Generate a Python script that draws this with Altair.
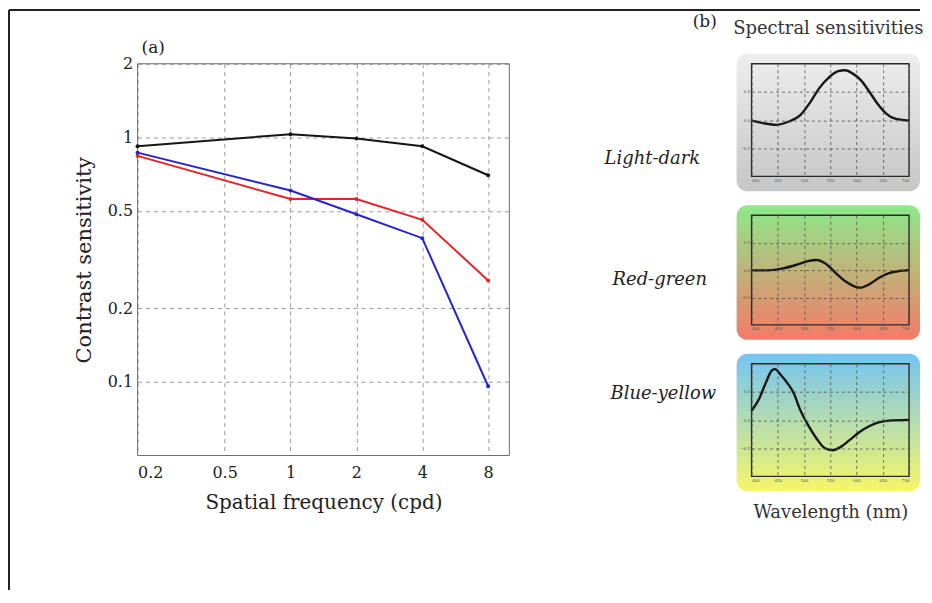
import altair as alt
import pandas as pd

# ---------------- data: panel (a) ----------------
freq = [0.2, 1, 2, 4, 8]
light_dark_cs = [0.92, 1.03, 0.99, 0.92, 0.70]
red_green_cs = [0.84, 0.56, 0.56, 0.46, 0.26]
blue_yellow_cs = [0.866, 0.606, 0.485, 0.387, 0.096]
channels = ["Light-dark", "Red-green", "Blue-yellow"]
channel_colors = ["#151515", "#e32626", "#2626c8"]
x_ticks = [0.2, 0.5, 1, 2, 4, 8]
y_ticks = [0.1, 0.2, 0.5, 1, 2]

# ---------------- data: panel (b) ----------------
ld_wl = [400, 422, 447, 471, 493, 512, 528, 547, 565, 578, 593, 609, 625, 640, 656, 672, 700]
ld_val = [-0.01, -0.055, -0.085, -0.025, 0.09, 0.32, 0.555, 0.755, 0.87, 0.885, 0.825, 0.70,
          0.495, 0.29, 0.12, 0.03, -0.01]
rg_wl = [400, 430, 462, 488, 507, 524, 540, 559, 578, 598, 607, 624, 643, 662, 682, 700]
rg_val = [-0.005, -0.005, 0.035, 0.105, 0.165, 0.185, 0.125, -0.04, -0.2, -0.305, -0.32, -0.26,
          -0.14, -0.055, -0.015, 0.0]
by_wl = [400, 414, 427, 439, 445, 455, 470, 480, 492, 508, 524, 539, 554, 570, 586, 605, 624,
         642, 661, 700]
by_val = [0.165, 0.37, 0.66, 0.885, 0.905, 0.81, 0.635, 0.485, 0.195, -0.095, -0.33, -0.495,
          -0.535, -0.475, -0.36, -0.215, -0.11, -0.04, -0.01, 0.005]
wl_ticks = [400, 450, 500, 550, 600, 650, 700]
sens_ticks = [-0.5, 0, 0.5]

FONT = "DejaVu Serif"
one = pd.DataFrame({"k": [0]})

# ---------------- panel (a) ----------------
W, H = 373, 393
df = pd.DataFrame({
    "freq": freq * 3,
    "cs": light_dark_cs + red_green_cs + blue_yellow_cs,
    "channel": [c for c in channels for _ in freq],
})
xs_a = alt.Scale(type="log", domain=[0.2, 10], nice=False)
ys_a = alt.Scale(type="log", domain=[0.05, 2], nice=False)
xa = alt.X("freq:Q", scale=xs_a,
           axis=alt.Axis(values=x_ticks, tickCount=len(x_ticks), format="~g",
                         title="Spatial frequency (cpd)",
                         grid=True, gridDash=[4, 4], gridColor="#9a9a9a", gridWidth=1,
                         ticks=False, domain=False, labelPadding=9, titlePadding=12,
                         labelFontSize=16, titleFontSize=20, labelColor="#222",
                         titleColor="#222", titleFontWeight="normal"))
ya = alt.Y("cs:Q", scale=ys_a,
           axis=alt.Axis(values=y_ticks, tickCount=len(y_ticks), format="~g",
                         title="Contrast sensitivity",
                         grid=True, gridDash=[4, 4], gridColor="#9a9a9a", gridWidth=1,
                         ticks=False, domain=False, labelPadding=5, titlePadding=13,
                         labelFontSize=16, titleFontSize=21, labelColor="#222",
                         titleColor="#222", titleFontWeight="normal"))
col = alt.Color("channel:N", scale=alt.Scale(domain=channels, range=channel_colors), legend=None)

lines = alt.Chart(df).mark_line(strokeWidth=2).encode(x=xa, y=ya, color=col)
pts = alt.Chart(df).mark_point(filled=True, size=16, opacity=1).encode(x="freq:Q", y="cs:Q", color=col)
frame_a = alt.Chart(one).mark_rect(fillOpacity=0, stroke="#6e6e6e", strokeWidth=1).encode(
    x=alt.X(datum=0.2, scale=xs_a), x2=alt.X2(datum=10),
    y=alt.Y(datum=0.05, scale=ys_a), y2=alt.Y2(datum=2))
label_a = alt.Chart(one).mark_text(text="(a)", font=FONT, fontSize=17, align="left",
                                   baseline="alphabetic", color="#222").encode(
    x=alt.value(4), y=alt.value(-11))
border_v = alt.Chart(one).mark_rule(color="#222", strokeWidth=2).encode(
    x=alt.value(-129), y=alt.value(-54), y2=alt.value(528))
border_h = alt.Chart(one).mark_rule(color="#222", strokeWidth=2).encode(
    x=alt.value(-129), x2=alt.value(785), y=alt.value(-54))

left = alt.layer(frame_a, lines, pts, label_a, border_v, border_h).properties(width=W, height=H)

# ---------------- panel (b) ----------------
PW = 158
TOP = 63   # page y of the panel tops (shared with panel a)
PX = 749   # page x of the panel plot areas


def panel(wl, val, label, c_top, c_bot, label_x, label_y, height, first=False, last=False):
    d = pd.DataFrame({"wl": wl, "s": val})
    xs = alt.Scale(domain=[400, 700], nice=False, zero=False)
    ys = alt.Scale(domain=[-1, 1], nice=False)
    xkw = dict(values=wl_ticks, tickCount=len(wl_ticks), grid=True, gridDash=[3, 3],
               gridColor="#505050", gridWidth=0.8, ticks=False, domain=False, labelFontSize=4,
               labelColor="#555", labelPadding=2, zindex=1)
    if last:
        xkw.update(title="Wavelength (nm)", titleFontSize=18, titleFontWeight="normal",
                   titleColor="#333", titleY=27, titleBaseline="top")
    else:
        xkw.update(title="")
    xe = alt.X("wl:Q", scale=xs, axis=alt.Axis(**xkw))
    ye = alt.Y("s:Q", scale=ys,
               axis=alt.Axis(values=sens_ticks, tickCount=len(sens_ticks), grid=True,
                             gridDash=[3, 3], gridColor="#505050",
                             gridWidth=0.8, ticks=False, domain=False, labelFontSize=4,
                             labelColor="#555", labelPadding=2, zindex=1,
                             title=label, titleAngle=0, titleAlign="left",
                             titleBaseline="middle", titleX=label_x, titleY=label_y,
                             titleFontSize=18, titleFontStyle="italic",
                             titleFontWeight="normal", titleColor="#222"))
    grad = alt.LinearGradient(gradient="linear",
                              stops=[alt.GradientStop(color=c_top, offset=0),
                                     alt.GradientStop(color=c_bot, offset=1)],
                              x1=0, x2=0, y1=0, y2=1)
    bg = alt.Chart(one).mark_rect(cornerRadius=11, fill=grad).encode(
        x=alt.value(-15), x2=alt.value(PW + 11), y=alt.value(-10), y2=alt.value(height + 15))
    frame = alt.Chart(one).mark_rect(fillOpacity=0, stroke="#2a2a2a", strokeWidth=1.4).encode(
        x=alt.X(datum=400, scale=xs), x2=alt.X2(datum=700),
        y=alt.Y(datum=-1, scale=ys), y2=alt.Y2(datum=1))
    curve = alt.Chart(d).mark_line(color="#161616", strokeWidth=2.4, interpolate="monotone").encode(
        x=xe, y=ye)
    layers = [bg, frame, curve]
    if first:
        layers.append(alt.Chart(one).mark_text(text="(b)", font=FONT, fontSize=17, align="left",
                                               baseline="alphabetic", color="#222").encode(
            x=alt.value(690 - PX), y=alt.value(26 - TOP)))
        layers.append(alt.Chart(one).mark_text(text="Spectral sensitivities", font=FONT,
                                               fontSize=18, align="center",
                                               baseline="alphabetic", color="#333").encode(
            x=alt.value(826 - PX), y=alt.value(33 - TOP)))
    return alt.layer(*layers).properties(width=PW, height=height)


H1, H2, H3, GAP = 113, 110, 113, 39
top2 = TOP + H1 + GAP
top3 = top2 + H2 + GAP
p1 = panel(ld_wl, ld_val, "Light-dark", "#eeeeee", "#c6c6c6", 601 - PX, 158 - TOP, H1, first=True)
p2 = panel(rg_wl, rg_val, "Red-green", "#8ee98a", "#f47a68", 609 - PX, 279 - top2, H2)
p3 = panel(by_wl, by_val, "Blue-yellow", "#74c4f3", "#f7f668", 607 - PX, 394 - top3, H3, last=True)

right = alt.vconcat(p1, p2, p3, spacing=GAP, bounds="flush")

chart = alt.hconcat(left, right, spacing=243, bounds="flush").properties(
    padding=0, background="white"
).configure(font=FONT).configure_view(strokeWidth=0)

chart.save("out.html", embed_options={"renderer": "svg", "actions": False})
